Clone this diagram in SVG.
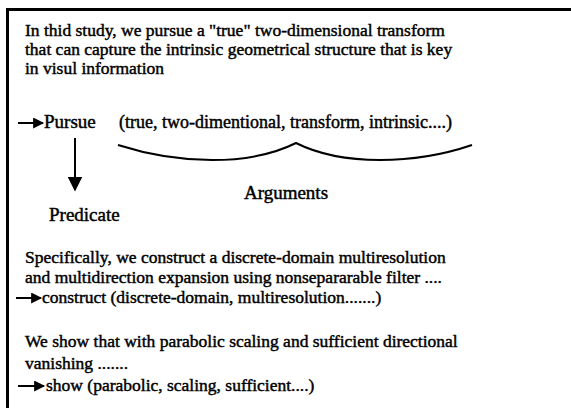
<svg xmlns="http://www.w3.org/2000/svg" width="571" height="408" viewBox="0 0 571 408">
<style>
text{font-family:"Liberation Serif","Times New Roman",serif;font-size:17.5px;fill:#000;stroke:#000;stroke-width:0.45}
.lbl{font-size:19px}
.big{font-size:18px}
.ln{stroke:#000;stroke-width:2;fill:none}
.hd{fill:#000;stroke:none}
</style>
<defs>
<marker id="ah" viewBox="0 0 10 10" refX="9" refY="5" markerWidth="12" markerHeight="11" markerUnits="userSpaceOnUse" orient="auto"><path d="M0,0 L10,5 L0,10 Z" class="hd"/></marker>
<marker id="ahd" viewBox="0 0 10 10" refX="9" refY="5" markerWidth="15" markerHeight="15" markerUnits="userSpaceOnUse" orient="auto"><path d="M0,0 L10,5 L0,10 Z" class="hd"/></marker>
</defs>
<rect width="571" height="408" fill="#fff"/>
<g id="frame">
<path d="M7.5,430 L7.5,9.5 L575,9.5" fill="none" stroke="#000" stroke-width="3"/>
</g>
<g id="sentence1">
<text x="25" y="36">In thid study, we pursue a "true" two-dimensional transform</text>
<text x="25" y="55">that can capture the intrinsic geometrical structure that is key</text>
<text x="25" y="74">in visul information</text>
</g>
<g id="pursue">
<text class="lbl" x="44" y="128">Pursue</text>
<text class="big" x="119" y="128">(true, two-dimentional, transform, intrinsic....)</text>
</g>
<g id="arguments">
<text class="lbl" x="286" y="199" text-anchor="middle">Arguments</text>
</g>
<g id="predicate">
<text class="lbl" x="49" y="221">Predicate</text>
</g>
<g id="sentence2">
<text x="25" y="263">Specifically, we construct a discrete-domain multiresolution</text>
<text x="25" y="283">and multidirection expansion using nonsepararable filter ....</text>
<text x="42" y="303">construct (discrete-domain, multiresolution.......)</text>
</g>
<g id="sentence3">
<text x="25" y="347">We show that with parabolic scaling and sufficient directional</text>
<text x="25" y="369">vanishing .......</text>
<text x="46" y="391">show (parabolic, scaling, sufficient....)</text>
</g>
<g id="connectors">
<line class="ln" x1="18" y1="123" x2="43" y2="123" marker-end="url(#ah)"/>
<line class="ln" x1="75" y1="138" x2="75" y2="190" marker-end="url(#ahd)"/>
<path class="ln" d="M118,145 Q165,160 212,160 Q262,160 296,143 Q330,160 380,160 Q428,160 472,145"/>
<line class="ln" x1="16" y1="298" x2="41" y2="298" marker-end="url(#ah)"/>
<line class="ln" x1="18" y1="386" x2="44" y2="386" marker-end="url(#ah)"/>
</g>
</svg>
